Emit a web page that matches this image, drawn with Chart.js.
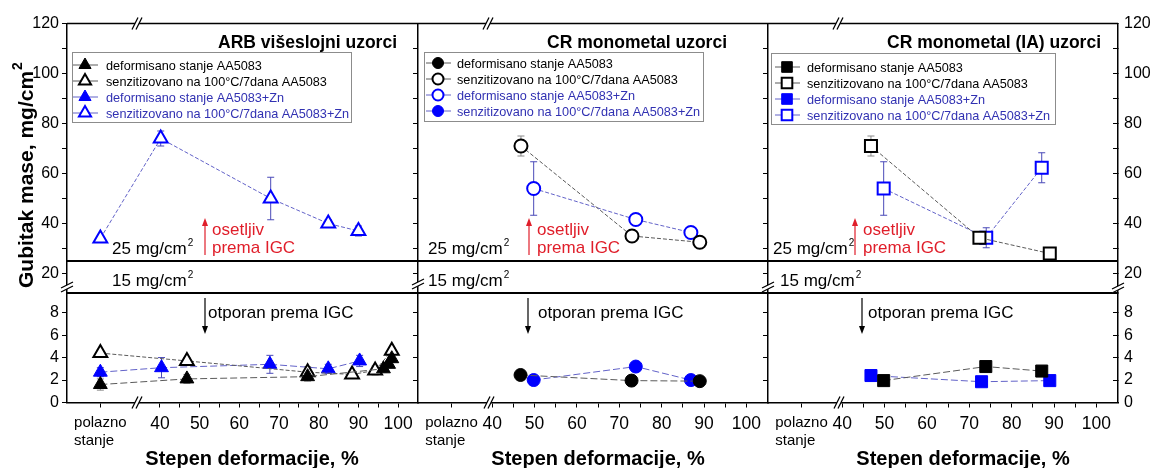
<!DOCTYPE html>
<html lang="sr">
<head>
<meta charset="UTF-8">
<title>Gubitak mase</title>
<script src="https://cdn.jsdelivr.net/npm/chart.js@4.4.1/dist/chart.umd.min.js"></script>
<style>
  html, body { margin: 0; padding: 0; background: #fff; }
  #wrap { position: relative; width: 1158px; height: 468px; }
  #wrap canvas { position: absolute; left: 0; top: 0; }
</style>
</head>
<body>
<div id="wrap"></div>
<script>
// ---- axes ----
const polaznoX = [25, 30.4, 30.4];
const xMins = [16.6, 22.5, 22.5];
const xMaxs = [105, 105.1, 105.1];
const xTicks = [40, 45, 50, 55, 60, 65, 70, 75, 80, 85, 90, 95, 100];
const xLabels = [40, 50, 60, 70, 80, 90, 100];
const upperRange = [12.2, 120];
const lowerRange = [0, 9.75];
const upperLabels = [20, 40, 60, 80, 100, 120];
const lowerLabels = [0, 2, 4, 6, 8];

// ---- ARB viseslojni uzorci ----
const arbDefX = [25, 46.8, 77.2, 96.3, 97.6, 98.4];
const arbDefY = [1.6, 2.1, 2.3, 3.0, 3.4, 3.9];
const arbDefErr = [0.5, 0.4, 0.4, 0.3, 0.3, 0.3];
const arbSenzX = [25, 46.8, 77.2, 88.4, 94.2, 98.4];
const arbSenzY = [4.4, 3.7, 2.7, 2.5, 2.85, 4.6];
const arbSenzErr = [0.3, 0.3, 0.5, 0.3, 0.4, 0.3];
const arbZnDefX = [25, 40.4, 67.7, 82.4, 90.3];
const arbZnDefY = [2.7, 3.1, 3.4, 3.0, 3.7];
const arbZnDefErr = [0.4, 0.9, 0.8, 0.4, 0.5];
const arbZnSenzX = [25, 40.2, 67.9, 82.4, 90.0];
const arbZnSenzY = [34, 74, 50, 40, 37];
const arbZnSenzErr = [1, 3, 8.5, 1.5, 2];

// ---- CR monometal uzorci ----
const crDefX = [46.7, 72.9, 89.0];
const crDefY = [2.45, 1.95, 1.9];
const crDefErr = [0.2, 0.2, 0.2];
const crSenzX = [46.8, 73.0, 89.0];
const crSenzY = [71, 35, 32.5];
const crSenzErr = [4, 1.5, 1.5];
const crZnDefX = [49.8, 73.9, 86.9];
const crZnDefY = [54, 41.6, 36.4];
const crZnDefErr = [10.7, 1.5, 1];
const crZnSenzX = [49.8, 73.9, 86.9];
const crZnSenzY = [2.0, 3.2, 2.0];
const crZnSenzErr = [0.2, 0.2, 0.2];

// ---- CR monometal (IA) uzorci ----
const iaDefX = [49.8, 73.9, 87.1];
const iaDefY = [1.95, 3.2, 2.8];
const iaDefErr = [0.2, 0.2, 0.2];
const iaSenzX = [46.8, 72.4, 89.0];
const iaSenzY = [71, 34.3, 28];
const iaSenzErr = [4, 1, 1.5];
const iaZnDefX = [46.8, 72.9, 89.0];
const iaZnDefY = [2.4, 1.85, 1.95];
const iaZnDefErr = [0.2, 0.2, 0.2];
const iaZnSenzX = [49.8, 74.0, 87.1];
const iaZnSenzY = [54, 34.3, 62.3];
const iaZnSenzErr = [10.7, 4, 6];

const LBL_DEF = 'deformisano stanje AA5083';
const LBL_SENZ = 'senzitizovano na 100°C/7dana AA5083';
const LBL_ZN_DEF = 'deformisano stanje AA5083+Zn';
const LBL_ZN_SENZ = 'senzitizovano na 100°C/7dana AA5083+Zn';

// ---- styles ----
const W = 1158, H = 468;
const TOP = 23.5, MID = 293, BOT = 402.5;
const FONT = '"Liberation Sans", Arial, sans-serif';
const BLACK = '#000000', BLUE = '#0000ff';
const LINE_BLACK = '#5a5a5a', LINE_BLUE = '#6262c8';
const ERR_BLACK = '#8a8a8a', ERR_BLUE = '#4a4ab8';
const TEXT_BLUE = '#3131b2', RED = '#e01e2a';
const RADIUS = { triangle: 8, circle: 6.5, rect: 8.5 };

Chart.defaults.font.family = FONT;
Chart.defaults.color = '#000';

function ser(label, x, y, err, style, blue, filled, part) {
  return { label, x, y, err, style, blue, filled, part, color: blue ? BLUE : BLACK };
}

const panels = [
  {
    title: 'ARB višeslojni uzorci', left: 67, right: 418, titleX: 397, yTitle: true,
    leftLabels: true, rightAxis: false, xMin: xMins[0], xMax: xMaxs[0], polazno: polaznoX[0],
    legend: { x: 72, y: 52, w: 279, h: 70, y0: 65, dy: 16, mx: 13, tx: 34 },
    mg25: 112, mg15: 112, redAx: 205, redTx: 212, blkAx: 205, blkTx: 208,
    xTitleX: 252, xBreak: 137, topBreak: 137, yBreaks: [[67, 287]],
    series: [
      ser(LBL_DEF, arbDefX, arbDefY, arbDefErr, 'triangle', false, true, 'low'),
      ser(LBL_SENZ, arbSenzX, arbSenzY, arbSenzErr, 'triangle', false, false, 'low'),
      ser(LBL_ZN_DEF, arbZnDefX, arbZnDefY, arbZnDefErr, 'triangle', true, true, 'low'),
      ser(LBL_ZN_SENZ, arbZnSenzX, arbZnSenzY, arbZnSenzErr, 'triangle', true, false, 'up')
    ]
  },
  {
    title: 'CR monometal uzorci', left: 418, right: 768, titleX: 727, yTitle: false,
    leftLabels: false, rightAxis: false, xMin: xMins[1], xMax: xMaxs[1], polazno: polaznoX[1],
    legend: { x: 424, y: 52, w: 279, h: 69, y0: 63, dy: 16, mx: 14, tx: 33 },
    mg25: 428, mg15: 428, redAx: 529, redTx: 537, blkAx: 528, blkTx: 538,
    xTitleX: 598, xBreak: 489, topBreak: 488, yBreaks: [[418, 284]],
    series: [
      ser(LBL_DEF, crDefX, crDefY, crDefErr, 'circle', false, true, 'low'),
      ser(LBL_SENZ, crSenzX, crSenzY, crSenzErr, 'circle', false, false, 'up'),
      ser(LBL_ZN_DEF, crZnDefX, crZnDefY, crZnDefErr, 'circle', true, false, 'up'),
      ser(LBL_ZN_SENZ, crZnSenzX, crZnSenzY, crZnSenzErr, 'circle', true, true, 'low')
    ]
  },
  {
    title: 'CR monometal (IA) uzorci', left: 768, right: 1118, titleX: 1101, yTitle: false,
    leftLabels: false, rightAxis: true, xMin: xMins[2], xMax: xMaxs[2], polazno: polaznoX[2],
    legend: { x: 771, y: 53, w: 284, h: 71, y0: 67, dy: 16, mx: 16, tx: 36 },
    mg25: 773, mg15: 780, redAx: 855, redTx: 863, blkAx: 862, blkTx: 868,
    xTitleX: 963, xBreak: 839, topBreak: 838, yBreaks: [[768, 287], [1118, 288]],
    series: [
      ser(LBL_DEF, iaDefX, iaDefY, iaDefErr, 'rect', false, true, 'low'),
      ser(LBL_SENZ, iaSenzX, iaSenzY, iaSenzErr, 'rect', false, false, 'up'),
      ser(LBL_ZN_DEF, iaZnDefX, iaZnDefY, iaZnDefErr, 'rect', true, true, 'low'),
      ser(LBL_ZN_SENZ, iaZnSenzX, iaZnSenzY, iaZnSenzErr, 'rect', true, false, 'up')
    ]
  }
];

// ---- drawing helpers ----
function txt(ctx, s, x, y, font, color, align) {
  ctx.font = font;
  ctx.fillStyle = color;
  ctx.textAlign = align || 'left';
  ctx.textBaseline = 'alphabetic';
  ctx.fillText(s, x, y);
}

function txtSup(ctx, s, sup, x, y, size, color) {
  txt(ctx, s, x, y, size + 'px ' + FONT, color);
  const w = ctx.measureText(s).width;
  txt(ctx, sup, x + w + 1, y - size * 0.45, Math.round(size * 0.6) + 'px ' + FONT, color);
}

function arrow(ctx, x, y1, y2, color) {
  const dir = y2 > y1 ? 1 : -1;
  ctx.strokeStyle = color;
  ctx.fillStyle = color;
  ctx.lineWidth = 1.2;
  ctx.setLineDash([]);
  ctx.beginPath();
  ctx.moveTo(x, y1);
  ctx.lineTo(x, y2 - dir * 5);
  ctx.stroke();
  ctx.beginPath();
  ctx.moveTo(x, y2);
  ctx.lineTo(x - 3, y2 - dir * 8);
  ctx.lineTo(x + 3, y2 - dir * 8);
  ctx.closePath();
  ctx.fill();
}

function hline(ctx, x1, x2, y, w) {
  ctx.strokeStyle = '#000';
  ctx.lineWidth = w;
  ctx.setLineDash([]);
  ctx.beginPath();
  ctx.moveTo(x1, y);
  ctx.lineTo(x2, y);
  ctx.stroke();
}

// "//" on a horizontal axis line
function breakH(ctx, x, y) {
  ctx.fillStyle = '#fff';
  ctx.beginPath();
  ctx.moveTo(x - 5, y + 6); ctx.lineTo(x + 1, y - 6); ctx.lineTo(x + 5, y - 6); ctx.lineTo(x - 1, y + 6);
  ctx.closePath();
  ctx.fill();
  ctx.strokeStyle = '#000';
  ctx.lineWidth = 1.3;
  ctx.beginPath();
  ctx.moveTo(x - 5, y + 6); ctx.lineTo(x + 1, y - 6);
  ctx.moveTo(x - 1, y + 6); ctx.lineTo(x + 5, y - 6);
  ctx.stroke();
}

// "//" on a vertical axis line
function breakV(ctx, x, y) {
  ctx.fillStyle = '#fff';
  ctx.beginPath();
  ctx.moveTo(x - 6, y + 1); ctx.lineTo(x + 6, y - 5); ctx.lineTo(x + 6, y - 1); ctx.lineTo(x - 6, y + 5);
  ctx.closePath();
  ctx.fill();
  ctx.strokeStyle = '#000';
  ctx.lineWidth = 1.3;
  ctx.beginPath();
  ctx.moveTo(x - 6, y + 1); ctx.lineTo(x + 6, y - 5);
  ctx.moveTo(x - 6, y + 5); ctx.lineTo(x + 6, y - 1);
  ctx.stroke();
}

function drawLegend(ctx, p) {
  const lg = p.legend;
  ctx.fillStyle = '#fff';
  ctx.fillRect(lg.x, lg.y, lg.w, lg.h);
  ctx.strokeStyle = '#8c8c8c';
  ctx.lineWidth = 1;
  ctx.setLineDash([]);
  ctx.strokeRect(lg.x + 0.5, lg.y + 0.5, lg.w, lg.h);
  p.series.forEach((s, i) => {
    const y = lg.y0 + i * lg.dy;
    const mx = lg.x + lg.mx;
    ctx.strokeStyle = s.blue ? LINE_BLUE : LINE_BLACK;
    ctx.lineWidth = 1;
    ctx.beginPath();
    ctx.moveTo(mx - 12, y);
    ctx.lineTo(mx + 13, y);
    ctx.stroke();
    ctx.fillStyle = s.filled ? s.color : '#fff';
    ctx.strokeStyle = s.color;
    ctx.lineWidth = s.filled ? 1 : 2;
    Chart.helpers.drawPoint(ctx, { pointStyle: s.style, radius: RADIUS[s.style] - 1, rotation: 0, borderWidth: ctx.lineWidth }, mx, y);
    txt(ctx, s.label, lg.x + lg.tx, y + 4.5, '12.7px ' + FONT, s.blue ? TEXT_BLUE : '#000');
  });
}

const errorBars = {
  id: 'errorBars',
  beforeDatasetsDraw(chart) {
    const ctx = chart.ctx, xs = chart.scales.x, ys = chart.scales.y;
    ctx.save();
    ctx.setLineDash([]);
    chart.data.datasets.forEach(ds => {
      ctx.strokeStyle = ds.errColor;
      ctx.lineWidth = 1;
      ds.data.forEach((pt, i) => {
        const e = ds.err[i];
        if (!e) return;
        const px = xs.getPixelForValue(pt.x);
        const y1 = ys.getPixelForValue(pt.y + e);
        const y2 = ys.getPixelForValue(pt.y - e);
        ctx.beginPath();
        ctx.moveTo(px, y1); ctx.lineTo(px, y2);
        ctx.moveTo(px - 3.5, y1); ctx.lineTo(px + 3.5, y1);
        ctx.moveTo(px - 3.5, y2); ctx.lineTo(px + 3.5, y2);
        ctx.stroke();
      });
    });
    ctx.restore();
  }
};

function decor(p, up) {
  return {
    id: 'decor',
    afterDraw(chart) {
      const ctx = chart.ctx, ca = chart.chartArea, ys = chart.scales.y;
      ctx.save();
      if (up) {
        hline(ctx, ca.left, ca.right, ca.top, 1.5);
        breakH(ctx, p.topBreak, ca.top);
        hline(ctx, ca.left, ca.right, ys.getPixelForValue(25), 2);
        hline(ctx, ca.left, ca.right, ca.bottom, 2);
        txt(ctx, p.title, p.titleX, 48, 'bold 17.5px ' + FONT, '#000', 'right');
        drawLegend(ctx, p);
        txtSup(ctx, '25 mg/cm', '2', p.mg25, 254, 17, '#000');
        txtSup(ctx, '15 mg/cm', '2', p.mg15, 286, 17, '#000');
        arrow(ctx, p.redAx, 255, 218, RED);
        txt(ctx, 'osetljiv', p.redTx, 235, '17px ' + FONT, RED);
        txt(ctx, 'prema IGC', p.redTx, 253, '17px ' + FONT, RED);
        if (p.yTitle) {
          ctx.save();
          ctx.translate(33, 288);
          ctx.rotate(-Math.PI / 2);
          txt(ctx, 'Gubitak mase, mg/cm', 0, 0, 'bold 21px ' + FONT, '#000');
          const w = ctx.measureText('Gubitak mase, mg/cm').width;
          txt(ctx, '2', w + 1, -11, 'bold 14px ' + FONT, '#000');
          ctx.restore();
        }
      } else {
        breakH(ctx, p.xBreak, ca.bottom);
        p.yBreaks.forEach(b => breakV(ctx, b[0], b[1]));
        arrow(ctx, p.blkAx, 298, 334, '#000');
        txt(ctx, 'otporan prema IGC', p.blkTx, 318, '17px ' + FONT, '#000');
        txt(ctx, 'Stepen deformacije, %', p.xTitleX, 465, 'bold 20px ' + FONT, '#000', 'center');
      }
      ctx.restore();
    }
  };
}

function yAxis(position, up, showLabels) {
  const labs = up ? upperLabels : lowerLabels;
  const range = up ? upperRange : lowerRange;
  const isLeft = position === 'left';
  return {
    type: 'linear',
    position,
    min: range[0],
    max: range[1],
    afterFit: s => { s.width = isLeft ? 45 : 40; s.paddingTop = 0; s.paddingBottom = 0; },
    grid: { drawOnChartArea: false, tickLength: isLeft ? 5 : -5, color: '#000', tickWidth: 1 },
    border: { display: true, color: '#000', width: 1.5 },
    ticks: {
      stepSize: up ? 10 : 1,
      includeBounds: false,
      padding: isLeft ? 3 : 11,
      color: '#000',
      font: { size: 16, family: FONT },
      callback: v => (showLabels && labs.includes(v)) ? String(v) : ''
    }
  };
}

function buildConfig(p, part) {
  const up = part === 'up';
  const datasets = p.series.filter(s => s.part === part).map(s => ({
    label: s.label,
    data: s.x.map((x, i) => ({ x, y: s.y[i] })),
    err: s.err,
    errColor: s.blue ? ERR_BLUE : ERR_BLACK,
    showLine: true,
    borderColor: s.blue ? LINE_BLUE : LINE_BLACK,
    borderWidth: 1,
    borderDash: s.filled ? [7, 3] : [4, 2],
    pointStyle: s.style,
    pointRadius: RADIUS[s.style],
    pointBackgroundColor: s.filled ? s.color : '#fff',
    pointBorderColor: s.color,
    pointBorderWidth: s.filled ? 1 : 2,
    clip: false
  }));
  const scales = {
    x: {
      type: 'linear',
      min: p.xMin,
      max: p.xMax,
      display: !up,
      afterBuildTicks: s => { s.ticks = [p.polazno].concat(xTicks).map(v => ({ value: v })); },
      afterFit: s => { s.height = up ? 0 : 60; s.paddingLeft = 0; s.paddingRight = 0; },
      grid: { drawOnChartArea: false, tickLength: 5, color: '#000', tickWidth: 1 },
      border: { display: true, color: '#000', width: 1.5 },
      ticks: {
        autoSkip: false,
        maxRotation: 0,
        minRotation: 0,
        padding: 6,
        color: '#000',
        font: c => ({ size: (c.tick && c.tick.value === p.polazno) ? 15 : 17.5, family: FONT }),
        callback: v => v === p.polazno ? ['polazno', 'stanje   '] : (xLabels.includes(v) ? String(v) : '')
      }
    },
    y: yAxis('left', up, p.leftLabels)
  };
  if (p.rightAxis) scales.y2 = yAxis('right', up, true);
  return {
    type: 'scatter',
    data: { datasets },
    options: {
      responsive: false,
      animation: false,
      devicePixelRatio: 1,
      layout: {
        padding: {
          left: p.left - 45,
          right: W - p.right - (p.rightAxis ? 40 : 0),
          top: up ? TOP : MID,
          bottom: up ? H - MID : H - BOT - 60
        }
      },
      scales,
      plugins: { legend: { display: false }, tooltip: { enabled: false } }
    },
    plugins: [errorBars, decor(p, up)]
  };
}

const wrap = document.getElementById('wrap');
panels.forEach(p => {
  ['up', 'low'].forEach(part => {
    const canvas = document.createElement('canvas');
    canvas.width = W;
    canvas.height = H;
    wrap.appendChild(canvas);
    new Chart(canvas.getContext('2d'), buildConfig(p, part));
  });
});
</script>
</body>
</html>
